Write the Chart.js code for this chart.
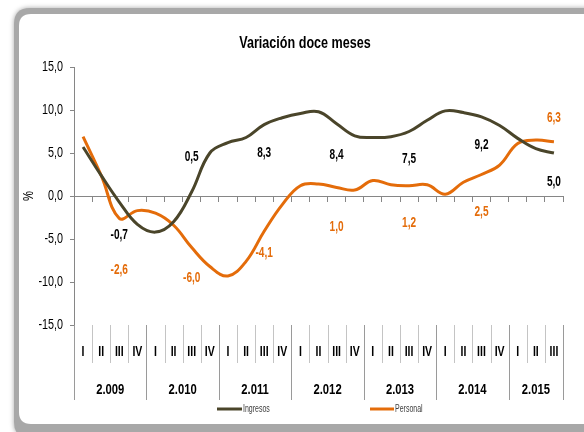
<!DOCTYPE html>
<html><head><meta charset="utf-8">
<script src="https://cdn.jsdelivr.net/npm/chart.js@4/dist/chart.umd.min.js"></script>
<style>html,body{margin:0;padding:0;background:#fff;overflow:hidden}#wrap{width:584px;height:432px;position:relative}</style>
</head><body><div id="wrap"><canvas id="c" width="584" height="432"></canvas></div>
<script>
// ---- data ----
const quarterLabels = ['I','II','III','IV','I','II','III','IV','I','II','III','IV','I','II','III','IV','I','II','III','IV','I','II','III','IV','I','II','III'];
const years = ['2.009','2.010','2.011','2.012','2.013','2.014','2.015'];
const quartersPerYear = [4,4,4,4,4,4,3];
const ingresos = [5.7, 2.4, -0.7, -3.3, -4.2, -3.0, 0.5, 5.0, 6.2, 6.8, 8.3, 9.1, 9.6, 9.8, 8.4, 7.0, 6.8, 6.9, 7.5, 8.8, 9.9, 9.7, 9.2, 8.2, 6.7, 5.5, 5.0];
const personal = [6.9, 2.4, -2.6, -1.7, -2.0, -3.4, -6.0, -8.2, -9.3, -7.6, -4.1, -1.0, 1.2, 1.4, 1.0, 0.7, 1.8, 1.3, 1.2, 1.3, 0.2, 1.6, 2.5, 3.6, 6.1, 6.5, 6.3];
const labelIndex = [2, 6, 10, 14, 18, 22, 26];
const ingresosLabelAt = [-4.6, 4.5, 5.0, 4.8, 4.3, 5.9, 1.6];
const personalLabelAt = [-8.6, -9.6, -6.6, -3.6, -3.2, -1.9, 9.0];
const yTicks = [-15, -10, -5, 0, 5, 10, 15];

const FONT = "'Liberation Sans', Arial, sans-serif";
const SX = 0.74; // horizontal text compression (narrow face look)
const C_ING = '#4A452A';
const C_PER = '#E46C0A';
const fmt = v => v.toFixed(1).replace('.', ',');

function rr(ctx, x, y, w, h, r) {
  ctx.beginPath();
  ctx.moveTo(x + r, y);
  ctx.lineTo(x + w - r, y); ctx.quadraticCurveTo(x + w, y, x + w, y + r);
  ctx.lineTo(x + w, y + h - r); ctx.quadraticCurveTo(x + w, y + h, x + w - r, y + h);
  ctx.lineTo(x + r, y + h); ctx.quadraticCurveTo(x, y + h, x, y + h - r);
  ctx.lineTo(x, y + r); ctx.quadraticCurveTo(x, y, x + r, y);
  ctx.closePath();
}
function txt(ctx, s, x, y, font, color, align, sx) {
  ctx.save();
  ctx.translate(x, y);
  ctx.scale(sx == null ? SX : sx, 1);
  ctx.font = font; ctx.fillStyle = color;
  ctx.textAlign = align || 'center'; ctx.textBaseline = 'middle';
  ctx.fillText(s, 0, 0);
  ctx.restore();
}

const framePlugin = {
  id: 'frame',
  beforeDraw(chart) {
    const ctx = chart.ctx;
    ctx.save();
    ctx.fillStyle = '#fff'; ctx.fillRect(0, 0, chart.width, chart.height);
    ctx.shadowColor = 'rgba(0,0,0,0.35)'; ctx.shadowBlur = 5;
    rr(ctx, 14, 8, 640, 430, 16); ctx.fillStyle = '#a8a8a8'; ctx.fill();
    ctx.shadowBlur = 0; ctx.shadowColor = 'transparent';
    rr(ctx, 19, 14, 630, 410, 12); ctx.fillStyle = '#fff'; ctx.fill();
    ctx.restore();
  }
};

const annoPlugin = {
  id: 'anno',
  afterDraw(chart) {
    const ctx = chart.ctx, xs = chart.scales.x, ys = chart.scales.y;
    const n = quarterLabels.length;
    const left = xs.left, w = (xs.right - xs.left) / n;
    const bottom = chart.chartArea.bottom;
    ctx.save();
    // title
    txt(ctx, 'Variación doce meses', 305, 43, "bold 17px " + FONT, '#000', 'center');
    // y tick labels
    ys.ticks.forEach(t => {
      txt(ctx, fmt(t.value), ys.right - 11, ys.getPixelForValue(t.value), "14px " + FONT, '#000', 'right', 0.77);
    });
    // y axis title
    ctx.save();
    ctx.translate(29, ys.getPixelForValue(0));
    ctx.rotate(-Math.PI / 2);
    txt(ctx, '%', 0, 0, "14px " + FONT, '#000', 'center', 0.8);
    ctx.restore();
    // separators
    const yearStarts = [0];
    quartersPerYear.forEach((q, i) => yearStarts.push(yearStarts[i] + q));
    for (let i = 0; i <= n; i++) {
      const x = Math.round(left + i * w) + 0.5;
      const isYear = yearStarts.includes(i);
      ctx.beginPath();
      ctx.strokeStyle = isYear ? '#9a9a9a' : '#c4c4c4';
      ctx.lineWidth = 1;
      ctx.moveTo(x, bottom);
      ctx.lineTo(x, bottom + (isYear ? 75 : 38));
      ctx.stroke();
    }
    // quarter labels
    quarterLabels.forEach((q, i) => txt(ctx, q, xs.getPixelForValue(i), bottom + 27, "bold 15px " + FONT, '#000', 'center', 0.7));
    // year labels
    years.forEach((y, i) => {
      const cx = (xs.getPixelForValue(yearStarts[i]) + xs.getPixelForValue(yearStarts[i + 1] - 1)) / 2;
      txt(ctx, y, cx, bottom + 65, "bold 15px " + FONT, '#000', 'center', 0.75);
    });
    // data labels
    labelIndex.forEach((idx, k) => {
      txt(ctx, fmt(ingresos[idx]), xs.getPixelForValue(idx), ys.getPixelForValue(ingresosLabelAt[k]), "bold 14px " + FONT, '#000', 'center', 0.72);
      txt(ctx, fmt(personal[idx]), xs.getPixelForValue(idx), ys.getPixelForValue(personalLabelAt[k]), "bold 14px " + FONT, C_PER, 'center', 0.72);
    });
    // legend
    const ly = 409;
    ctx.lineWidth = 3;
    ctx.strokeStyle = C_ING; ctx.beginPath(); ctx.moveTo(217, ly); ctx.lineTo(242, ly); ctx.stroke();
    ctx.strokeStyle = C_PER; ctx.beginPath(); ctx.moveTo(370, ly); ctx.lineTo(394, ly); ctx.stroke();
    txt(ctx, 'Ingresos', 243, ly, "10px " + FONT, '#404040', 'left', 0.7);
    txt(ctx, 'Personal', 395, ly, "10px " + FONT, '#404040', 'left', 0.7);
    ctx.restore();
  }
};

new Chart(document.getElementById('c'), {
  type: 'line',
  data: {
    labels: quarterLabels,
    datasets: [
      { label: 'Ingresos', data: ingresos, borderColor: C_ING, backgroundColor: C_ING, borderWidth: 3, pointRadius: 0, tension: 0.4, fill: false },
      { label: 'Personal', data: personal, borderColor: C_PER, backgroundColor: C_PER, borderWidth: 3, pointRadius: 0, tension: 0.4, fill: false }
    ]
  },
  options: {
    responsive: false,
    animation: false,
    devicePixelRatio: 1,
    layout: { padding: { left: 20, right: 21, top: 67, bottom: 107 } },
    plugins: { legend: { display: false }, tooltip: { enabled: false }, title: { display: false } },
    scales: {
      x: {
        position: { y: 0 },
        offset: true,
        grid: { offset: true, drawOnChartArea: false, tickLength: 5, color: '#868686' },
        border: { color: '#868686' },
        ticks: { display: false }
      },
      y: {
        position: 'left',
        min: -15, max: 15,
        afterBuildTicks(s) { s.ticks = yTicks.map(v => ({ value: v })); },
        afterFit(s) { s.width = 54; },
        ticks: { display: false },
        grid: { drawOnChartArea: false, tickLength: 4, color: '#868686' },
        border: { color: '#868686' }
      }
    }
  },
  plugins: [framePlugin, annoPlugin]
});
</script>
</body></html>
